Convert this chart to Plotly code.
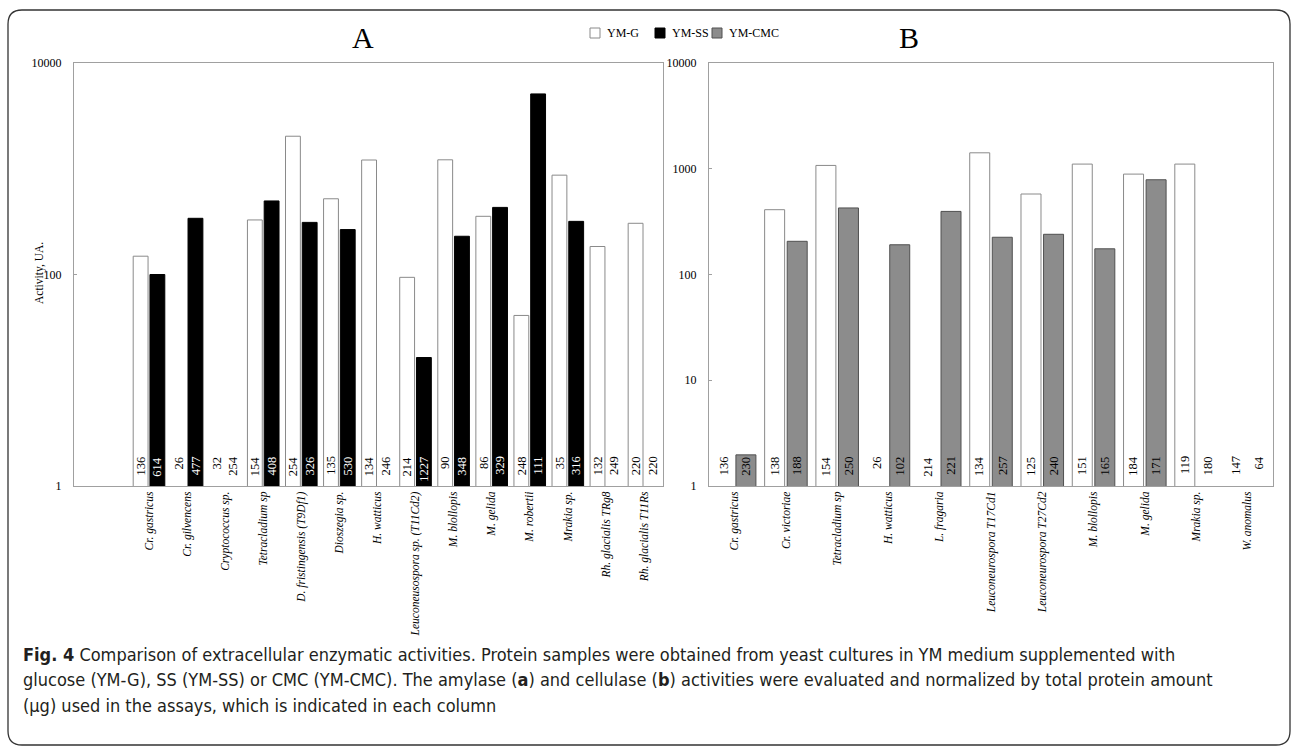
import plotly.graph_objects as go

# ---------------- data ----------------
A_categories = ["Cr. gastricus", "Cr. gilvencens", "Cryptococcus sp.", "Tetracladium sp",
                "D. fristingensis (T9Df1)", "Dioszegia sp.", "H. watticus",
                "Leuconeusospora sp. (T11Cd2)", "M. blollopis", "M. gelida", "M. robertii",
                "Mrakia sp.", "Rh. glacialis TRg8", "Rh. glacialis T11Rs"]
A_ymg = [149, None, None, 328, 2030, 520, 1210, 94, 1215, 355, 41, 870, 184, 305]
A_ymss = [100, 340, None, 496, 311, 266, None, 16.4, 230, 431, 5100, 318, None, None]
A_prot_g = [136, 26, 32, 154, 254, 135, 134, 214, 90, 86, 248, 35, 132, 220]
A_prot_ss = [614, 477, 254, 408, 326, 530, 246, 1227, 348, 329, 111, 316, 249, 220]

B_categories = ["Cr. gastricus", "Cr. victoriae", "Tetracladium sp", "H. watticus",
                "L. fragaria", "Leuconeurospora T17Cd1", "Leuconeurospora T27Cd2",
                "M. blollopis", "M. gelida", "Mrakia sp.", "W. anomalus"]
B_ymg = [None, 410, 1075, None, None, 1415, 577, 1107, 890, 1107, None]
B_cmc = [1.97, 206, 426, 191, 395, 225, 240, 175, 787, None, None]
B_prot_g = [136, 138, 154, 26, 214, 134, 125, 151, 184, 119, 147]
B_prot_cmc = [230, 188, 250, 102, 221, 257, 240, 165, 171, 180, 64]

y_ticks_A = [1, 100, 10000]
y_ticks_B = [1, 10, 100, 1000, 10000]

series_names = ["YM-G", "YM-SS", "YM-CMC"]

# ---------------- helpers ----------------
W, H = 1293, 749
def px(x):
    return x / W
def py(y):
    return 1 - y / H

SERIF = "Liberation Serif, Times New Roman, serif"
FRAME = "#a0a0a0"
COL_G = "white"
COL_SS = "black"
COL_CMC = "#8c8c8c"
LINE_G = "#8a8a8a"
LINE_SS = "black"
LINE_CMC = "#505050"
BW = 0.39
OFF_L = -0.415
OFF_R = 0.025
LBL_Y = 0.30  # log10 position of protein labels (top anchor)

fig = go.Figure()
xa = list(range(len(A_categories)))
xb = list(range(len(B_categories)))

fig.add_trace(go.Bar(x=xa, y=A_ymg, name=series_names[0], width=BW, offset=OFF_L,
                     marker=dict(color=COL_G, line=dict(color=LINE_G, width=1)),
                     xaxis="x", yaxis="y"))
fig.add_trace(go.Bar(x=xa, y=A_ymss, name=series_names[1], width=BW, offset=OFF_R,
                     marker=dict(color=COL_SS, line=dict(color=LINE_SS, width=1)),
                     xaxis="x", yaxis="y"))
fig.add_trace(go.Bar(x=xb, y=B_ymg, name=series_names[0], width=BW, offset=OFF_L,
                     marker=dict(color=COL_G, line=dict(color=LINE_G, width=1)),
                     xaxis="x2", yaxis="y2"))
fig.add_trace(go.Bar(x=xb, y=B_cmc, name=series_names[2], width=BW, offset=OFF_R,
                     marker=dict(color=COL_CMC, line=dict(color=LINE_CMC, width=1)),
                     xaxis="x2", yaxis="y2"))

ann = []
shapes = []
cL = OFF_L + BW / 2
cR = OFF_R + BW / 2
LBL_FONT = 12.5
for i, (g, s, sv) in enumerate(zip(A_prot_g, A_prot_ss, A_ymss)):
    ann.append(dict(x=i + cL, y=LBL_Y, xref="x", yref="y", text=str(g), textangle=-90,
                    showarrow=False, yanchor="top", xanchor="center",
                    font=dict(family=SERIF, size=LBL_FONT, color="black")))
    ann.append(dict(x=i + cR, y=LBL_Y, xref="x", yref="y", text=str(s), textangle=-90,
                    showarrow=False, yanchor="top", xanchor="center",
                    font=dict(family=SERIF, size=LBL_FONT,
                              color="white" if sv is not None else "black")))
for i, (g, c) in enumerate(zip(B_prot_g, B_prot_cmc)):
    ann.append(dict(x=i + cL, y=LBL_Y, xref="x2", yref="y2", text=str(g), textangle=-90,
                    showarrow=False, yanchor="top", xanchor="center",
                    font=dict(family=SERIF, size=LBL_FONT, color="black")))
    ann.append(dict(x=i + cR, y=LBL_Y, xref="x2", yref="y2", text=str(c), textangle=-90,
                    showarrow=False, yanchor="top", xanchor="center",
                    font=dict(family=SERIF, size=LBL_FONT, color="black")))

# panel titles
ann.append(dict(x=px(363), y=py(37), xref="paper", yref="paper", text="A", showarrow=False,
                xanchor="center", yanchor="middle",
                font=dict(family=SERIF, size=30, color="black")))
ann.append(dict(x=px(909), y=py(37), xref="paper", yref="paper", text="B", showarrow=False,
                xanchor="center", yanchor="middle",
                font=dict(family=SERIF, size=30, color="black")))
# y axis title
ann.append(dict(x=px(40), y=py(273), xref="paper", yref="paper", text="Activity, UA.",
                textangle=-90, showarrow=False, xanchor="center", yanchor="middle",
                font=dict(family=SERIF, size=11.5, color="black")))

# legend (drawn at top centre)
leg_items = [(series_names[0], COL_G, LINE_G, 590),
             (series_names[1], COL_SS, LINE_SS, 655),
             (series_names[2], COL_CMC, LINE_CMC, 712)]
for name, fc, lc, lx in leg_items:
    shapes.append(dict(type="rect", xref="paper", yref="paper",
                       x0=px(lx), x1=px(lx + 10), y0=py(38), y1=py(28),
                       fillcolor=fc, line=dict(color=lc, width=1)))
    ann.append(dict(x=px(lx + 15), y=py(33), xref="paper", yref="paper", text=name,
                    showarrow=False, xanchor="left", yanchor="middle",
                    font=dict(family=SERIF, size=12, color="black")))

# caption
CAP = "DejaVu Sans Condensed, Liberation Sans Narrow, Liberation Sans, sans-serif"
cap_lines = [
    "<b>Fig. 4</b> Comparison of extracellular enzymatic activities. Protein samples were obtained from yeast cultures in YM medium supplemented with",
    "glucose (YM-G), SS (YM-SS) or CMC (YM-CMC). The amylase (<b>a</b>) and cellulase (<b>b</b>) activities were evaluated and normalized by total protein amount",
    "(µg) used in the assays, which is indicated in each column",
]
for k, line in enumerate(cap_lines):
    ann.append(dict(x=px(21), y=py(654 + 25.5 * k), xref="paper", yref="paper", text=line,
                    xanchor="left", yanchor="middle", showarrow=False,
                    font=dict(family=CAP, size=18, color="#231f20")))

# rounded frame
x0, y0, x1, y1, r = 8, 10, 1290, 745, 14
path = (f"M {px(x0+r)},{py(y0)} L {px(x1-r)},{py(y0)} Q {px(x1)},{py(y0)} {px(x1)},{py(y0+r)} "
        f"L {px(x1)},{py(y1-r)} Q {px(x1)},{py(y1)} {px(x1-r)},{py(y1)} "
        f"L {px(x0+r)},{py(y1)} Q {px(x0)},{py(y1)} {px(x0)},{py(y1-r)} "
        f"L {px(x0)},{py(y0+r)} Q {px(x0)},{py(y0)} {px(x0+r)},{py(y0)} Z")
shapes.append(dict(type="path", path=path, xref="paper", yref="paper",
                   line=dict(color="#333333", width=1.3), fillcolor="rgba(0,0,0,0)"))

axis_common = dict(showline=True, mirror=True, linecolor=FRAME, linewidth=1,
                   showgrid=False, zeroline=False, automargin=False)
ydom = [py(486), py(63)]

fig.update_layout(
    width=W, height=H,
    margin=dict(l=0, r=0, t=0, b=0, pad=0),
    paper_bgcolor="white", plot_bgcolor="white",
    barmode="overlay",
    showlegend=False,
    xaxis=dict(domain=[px(74), px(663)], range=[-1.97, 13.5], tickmode="array",
               tickvals=xa, ticktext=[f"<i>{c}</i>" for c in A_categories], tickangle=-90,
               tickfont=dict(family=SERIF, size=11.5, color="black"), ticks="",
               anchor="y", **axis_common),
    yaxis=dict(domain=ydom, type="log", range=[0, 4], tickmode="array",
               tickvals=y_ticks_A, ticktext=[str(v) for v in y_ticks_A],
               tickfont=dict(family=SERIF, size=12, color="black"), ticks="inside",
               ticklen=3, tickcolor=FRAME, ticklabelstandoff=9, anchor="x", **axis_common),
    xaxis2=dict(domain=[px(709), px(1273)], range=[-0.5, 10.5], tickmode="array",
                tickvals=xb, ticktext=[f"<i>{c}</i>" for c in B_categories], tickangle=-90,
                tickfont=dict(family=SERIF, size=11.5, color="black"), ticks="",
                anchor="y2", **axis_common),
    yaxis2=dict(domain=ydom, type="log", range=[0, 4], tickmode="array",
                tickvals=y_ticks_B, ticktext=[str(v) for v in y_ticks_B],
                tickfont=dict(family=SERIF, size=12, color="black"), ticks="inside",
                ticklen=3, tickcolor=FRAME, ticklabelstandoff=9, anchor="x2", **axis_common),
    annotations=ann,
    shapes=shapes,
)

fig.write_html("out.html", config={"displayModeBar": False},
               post_script="document.body.style.margin='0';document.body.style.overflow='hidden';")
